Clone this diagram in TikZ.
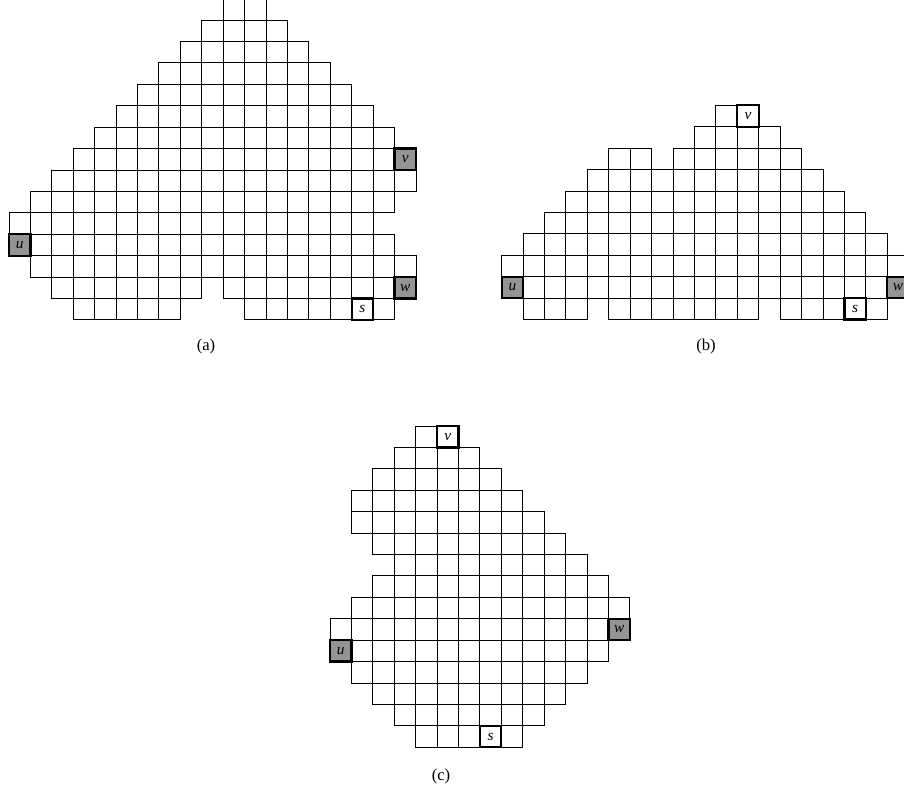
\documentclass[tikz,border=0pt]{standalone}
\usepackage{fontspec}
\setmainfont{Liberation Serif}
\begin{document}
\begin{tikzpicture}[x=0.75pt,y=-0.75pt,
  cell/.style={draw=black, line width=0.7pt},
  markcell/.style={draw=black, line width=1.7pt, inner sep=0pt, minimum size=16.06pt,
    font=\fontspec{Liberation Serif}\itshape\fontsize{11.5}{13}\selectfont},
  graycell/.style={markcell, fill=black!42},
  whitecell/.style={markcell, fill=white},
  caption/.style={font=\fontspec{Liberation Serif}\fontsize{12.5}{14}\selectfont}
]
\useasboundingbox (0,0) rectangle (904,790);
\clip (0,0) rectangle (904,790);
\def\cs{21.42}
% ---------- grid (a) ----------
\def\xa{9}\def\ya{-1.4}
\foreach \r/\a/\b in {0/10/11,1/9/12,2/8/13,3/7/14,4/6/15,5/5/16,6/4/17,7/3/18,8/2/18,
  9/1/17,10/0/16,11/0/17,12/1/18,13/2/8,13/10/18,14/3/7,14/11/17}{
  \foreach \c in {\a,...,\b}{
    \draw[cell] ({\xa+\c*\cs},{\ya+\r*\cs}) rectangle ++(\cs,\cs);
  }
}
\node[graycell]  (va) at ({\xa+18.5*\cs},{\ya+7.5*\cs})  {v};
\node[graycell]  (ua) at ({\xa+0.5*\cs},{\ya+11.5*\cs})  {u};
\node[graycell]  (wa) at ({\xa+18.5*\cs},{\ya+13.5*\cs}) {w};
\node[whitecell] (sa) at ({\xa+16.5*\cs},{\ya+14.5*\cs}) {s};
\node[caption] (capa) at (206,346) {(a)};
% ---------- grid (b) ----------
\def\xb{501.7}\def\yb{105.3}
\foreach \r/\a/\b in {0/10/11,1/9/12,2/5/6,2/8/13,3/4/14,4/3/15,5/2/16,6/1/17,7/0/18,
  8/0/18,9/1/3,9/5/11,9/13/17}{
  \foreach \c in {\a,...,\b}{
    \draw[cell] ({\xb+\c*\cs},{\yb+\r*\cs}) rectangle ++(\cs,\cs);
  }
}
\node[whitecell] (vb) at ({\xb+11.5*\cs},{\yb+0.5*\cs}) {v};
\node[graycell]  (ub) at ({\xb+0.5*\cs},{\yb+8.5*\cs})  {u};
\node[graycell]  (wb) at ({\xb+18.5*\cs},{\yb+8.5*\cs}) {w};
\node[whitecell] (sb) at ({\xb+16.5*\cs},{\yb+9.5*\cs}) {s};
\node[caption] (capb) at (706,346) {(b)};
% ---------- grid (c) ----------
\def\xc{330}\def\yc{426}
\foreach \r/\a/\b in {0/4/5,1/3/6,2/2/7,3/1/8,4/1/9,5/2/10,6/3/11,7/2/12,8/1/13,
  9/0/13,10/0/12,11/1/11,12/2/10,13/3/9,14/4/8}{
  \foreach \c in {\a,...,\b}{
    \draw[cell] ({\xc+\c*\cs},{\yc+\r*\cs}) rectangle ++(\cs,\cs);
  }
}
\node[whitecell] (vc) at ({\xc+5.5*\cs},{\yc+0.5*\cs})   {v};
\node[graycell]  (wc) at ({\xc+13.5*\cs},{\yc+9.5*\cs})  {w};
\node[graycell]  (uc) at ({\xc+0.5*\cs},{\yc+10.5*\cs})  {u};
\node[whitecell] (sc) at ({\xc+7.5*\cs},{\yc+14.5*\cs})  {s};
\node[caption] (capc) at (441,776) {(c)};
\end{tikzpicture}
\end{document}
